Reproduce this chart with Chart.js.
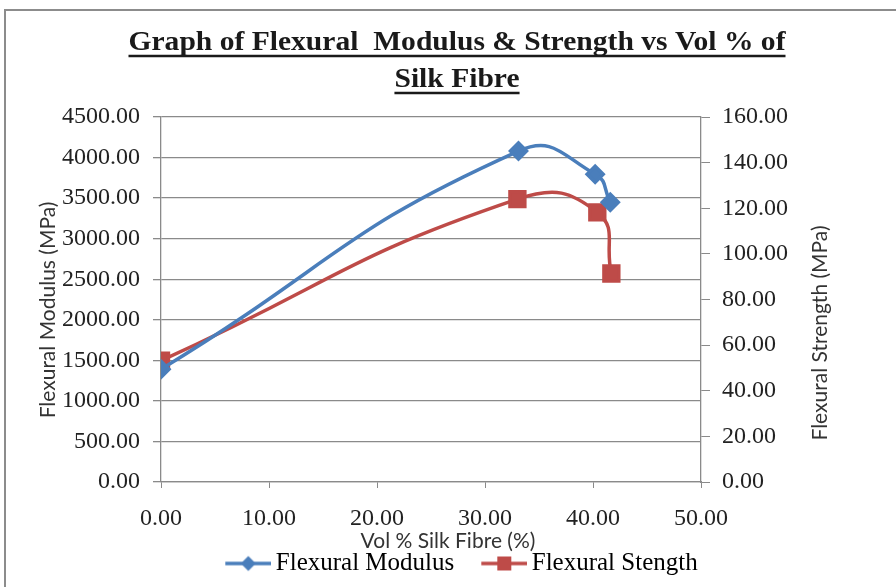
<!DOCTYPE html>
<html>
<head>
<meta charset="utf-8">
<script src="https://cdn.jsdelivr.net/npm/chart.js@4/dist/chart.umd.min.js"></script>
<style>
  html, body { margin: 0; padding: 0; background: #fff; }
  #wrap { width: 896px; height: 587px; }
</style>
</head>
<body>
<div id="wrap"><canvas id="flexChart" width="896" height="587"></canvas></div>
<script>
// values
const volModulus = [0, 33.1, 40.2, 41.6];
const modulusMPa = [1390, 4080, 3795, 3450];
const volStrength = [0, 33.0, 40.4, 41.7];
const strengthMPa = [53.2, 124.0, 118.2, 91.4];

const seriesNames = ['Flexural Modulus', 'Flexural Stength'];
const titleLines = ['Graph of Flexural  Modulus & Strength vs Vol % of', 'Silk Fibre'];
const xTitle = 'Vol % Silk Fibre (%)';
const yTitle = 'Flexural Modulus (MPa)';
const y2Title = 'Flexural Strength (MPa)';

const blue = '#4A7EBB';
const red = '#BE4B48';
const gridGray = '#8a8a8a';
const serif = "'Liberation Serif', 'DejaVu Serif', serif";
const sans = "Lato, 'Open Sans', sans-serif";

// little line+marker picture for the legend (blank on the left gives the gap between entries)
function legendIcon(color, shape) {
    const c = document.createElement('canvas');
    c.width = 81; c.height = 24;
    const g = c.getContext('2d');
    g.strokeStyle = color;
    g.fillStyle = color;
    g.lineWidth = 3.5;
    g.beginPath();
    g.moveTo(35, 12);
    g.lineTo(81, 12);
    g.stroke();
    const cx = 58, cy = 12;
    g.beginPath();
    if (shape === 'diamond') {
        g.moveTo(cx, cy - 7.5); g.lineTo(cx + 7.5, cy); g.lineTo(cx, cy + 7.5); g.lineTo(cx - 7.5, cy);
        g.closePath();
    } else {
        g.rect(cx - 7, cy - 7, 14, 14);
    }
    g.fill();
    return c;
}
const icons = [legendIcon(blue, 'diamond'), legendIcon(red, 'square')];

const toXY = (xs, ys) => xs.map((x, i) => ({ x: x, y: ys[i] }));

const decorPlugin = {
    id: 'decor',
    beforeDraw(chart) {
        const ctx = chart.ctx;
        ctx.save();
        ctx.strokeStyle = '#8c8c8c';
        ctx.lineWidth = 2;
        ctx.strokeRect(5, 10, 1200, 1200);
        ctx.restore();
    },
    afterDraw(chart) {
        const ctx = chart.ctx;
        ctx.save();
        // title, a bit wider than the plain font, underlined
        ctx.font = "bold 27px " + serif;
        ctx.fillStyle = '#1a1a1a';
        ctx.strokeStyle = '#1a1a1a';
        ctx.textAlign = 'center';
        ctx.textBaseline = 'alphabetic';
        const sx = 657 / ctx.measureText(titleLines[0]).width;
        const baselines = [50, 87];
        titleLines.forEach((t, i) => {
            const w = ctx.measureText(t).width * sx;
            ctx.save();
            ctx.translate(457, baselines[i]);
            ctx.scale(sx, 1);
            ctx.fillText(t, 0, 0);
            ctx.restore();
            ctx.lineWidth = 2.5;
            ctx.beginPath();
            ctx.moveTo(457 - w / 2, baselines[i] + 6);
            ctx.lineTo(457 + w / 2, baselines[i] + 6);
            ctx.stroke();
        });
        // axis titles; both vertical ones read bottom to top
        ctx.font = "21px " + sans;
        ctx.fillStyle = '#333';
        ctx.textBaseline = 'middle';
        ctx.fillText(xTitle, 448, 541);
        [[yTitle, 48, 310], [y2Title, 820, 333]].forEach(([t, x, y]) => {
            ctx.save();
            ctx.translate(x, y);
            ctx.rotate(-Math.PI / 2);
            ctx.fillText(t, 0, 0);
            ctx.restore();
        });
        ctx.restore();
    }
};

new Chart(document.getElementById('flexChart'), {
    type: 'scatter',
    data: {
        datasets: [{
            label: seriesNames[0],
            data: toXY(volModulus, modulusMPa),
            showLine: true,
            tension: 0.5,
            borderColor: blue,
            backgroundColor: blue,
            borderWidth: 3.5,
            pointStyle: 'rectRot',
            pointRadius: 8,
            pointHoverRadius: 8,
            yAxisID: 'y'
        }, {
            label: seriesNames[1],
            data: toXY(volStrength, strengthMPa),
            showLine: true,
            tension: 0.5,
            borderColor: red,
            backgroundColor: red,
            borderWidth: 3.5,
            pointStyle: 'rect',
            pointRadius: 10.5,
            pointHoverRadius: 10.5,
            yAxisID: 'y2'
        }]
    },
    options: {
        responsive: false,
        animation: false,
        devicePixelRatio: 1,
        layout: { padding: { left: 0, right: 0, top: 117, bottom: 1 } },
        plugins: {
            tooltip: { enabled: false },
            title: { display: false },
            legend: {
                position: 'bottom',
                labels: {
                    usePointStyle: true,
                    pointStyleWidth: 65,
                    boxHeight: 25,
                    padding: 0,
                    color: '#222',
                    font: { family: serif, size: 25 },
                    generateLabels: (chart) => seriesNames.map((name, i) => ({
                        text: name,
                        fillStyle: i ? red : blue,
                        strokeStyle: i ? red : blue,
                        lineWidth: 0,
                        pointStyle: icons[i],
                        hidden: false,
                        datasetIndex: i
                    }))
                }
            }
        },
        scales: {
            x: {
                type: 'linear',
                min: 0,
                max: 50,
                ticks: {
                    stepSize: 10,
                    padding: 16,
                    color: '#222',
                    font: { family: serif, size: 24 },
                    callback: (v) => v.toFixed(2)
                },
                grid: { drawOnChartArea: false, tickLength: 6, color: gridGray },
                border: { color: gridGray, width: 1.3 },
                afterFit: (s) => { s.height = 69; }
            },
            y: {
                position: 'left',
                min: 0,
                max: 4500,
                ticks: {
                    stepSize: 500,
                    padding: 13,
                    color: '#222',
                    font: { family: serif, size: 24 },
                    callback: (v) => v.toFixed(2)
                },
                grid: { color: gridGray, lineWidth: 1.3, tickLength: 8 },
                border: { color: gridGray, width: 1.3 },
                afterFit: (s) => { s.width = 161; }
            },
            y2: {
                position: 'right',
                min: 0,
                max: 160,
                ticks: {
                    stepSize: 20,
                    padding: 12,
                    color: '#222',
                    font: { family: serif, size: 24 },
                    callback: (v) => v.toFixed(2)
                },
                grid: { drawOnChartArea: false, color: gridGray, tickLength: 9 },
                border: { color: gridGray, width: 1.3 },
                afterFit: (s) => { s.width = 195; }
            }
        }
    },
    plugins: [decorPlugin]
});
</script>
</body>
</html>
